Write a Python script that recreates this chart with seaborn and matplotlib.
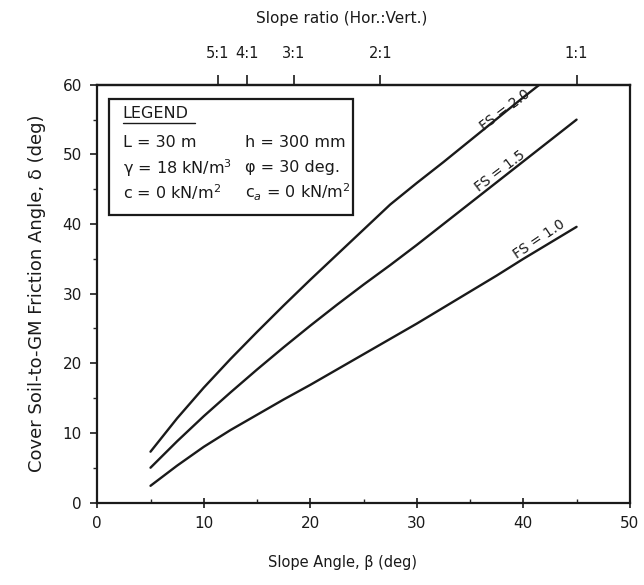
import numpy as np
import pandas as pd
import matplotlib
matplotlib.use("Agg")
import matplotlib.pyplot as plt
import seaborn as sns
from matplotlib.patches import Rectangle

# Slope angle beta (deg) and required interface friction angle delta (deg) for each factor of safety
beta = [5, 7.5, 10, 12.5, 15, 17.5, 20, 22.5, 25, 27.5, 30, 32.5, 35, 37.5, 40, 42.5, 45]
delta_fs10 = [2.4, 5.3, 8.0, 10.4, 12.6, 14.8, 16.9, 19.1, 21.3, 23.5, 25.7, 28.0, 30.3, 32.6, 35.0, 37.3, 39.6]
delta_fs15 = [5.0, 8.8, 12.4, 15.8, 19.1, 22.3, 25.4, 28.4, 31.3, 34.1, 37.0, 40.0, 43.0, 46.0, 49.0, 52.0, 55.0]
beta_fs20 = [5, 7.5, 10, 12.5, 15, 17.5, 20, 22.5, 25, 27.5, 30, 32.5, 35, 37.5, 40, 41.5]
delta_fs20 = [7.3, 12.1, 16.5, 20.6, 24.5, 28.3, 32.0, 35.6, 39.2, 42.8, 45.9, 48.9, 52.0, 55.1, 58.2, 60.0]

fs_names = ["FS = 1.0", "FS = 1.5", "FS = 2.0"]

# Slope ratios shown on the top axis
ratio_labels = ["5:1", "4:1", "3:1", "2:1", "1:1"]
ratio_hv = [5, 4, 3, 2, 1]

sns.set_theme(style="ticks")
plt.rcParams["font.family"] = ["DejaVu Sans"]
INK = "#1a1a1a"

frames = [
    pd.DataFrame({"beta": beta, "delta": delta_fs10, "fs": fs_names[0]}),
    pd.DataFrame({"beta": beta, "delta": delta_fs15, "fs": fs_names[1]}),
    pd.DataFrame({"beta": beta_fs20, "delta": delta_fs20, "fs": fs_names[2]}),
]
df = pd.concat(frames, ignore_index=True)

fig = plt.figure(figsize=(6.44, 5.85), dpi=100)
ax = fig.add_axes([0.151, 0.141, 0.827, 0.714])

sns.lineplot(data=df, x="beta", y="delta", hue="fs", units="fs", estimator=None,
             palette=[INK] * 3, linewidth=1.7, legend=False, ax=ax, sort=True)

ax.set_xlim(0, 50)
ax.set_ylim(0, 60)
ax.set_xticks(np.arange(0, 51, 10))
ax.set_yticks(np.arange(0, 61, 10))
ax.set_xticks(np.arange(0, 51, 5), minor=True)
ax.set_yticks(np.arange(0, 61, 5), minor=True)
ax.tick_params(axis="x", which="major", direction="inout", length=7, width=1.2,
               labelsize=11, pad=6, colors=INK)
ax.tick_params(axis="x", which="minor", direction="in", length=3, width=1)
ax.tick_params(axis="y", which="major", direction="out", length=5, width=1.2,
               labelsize=11, pad=6, colors=INK)
ax.tick_params(axis="y", which="minor", direction="out", length=3, width=1)
for s in ax.spines.values():
    s.set_visible(True)
    s.set_linewidth(1.6)
    s.set_color(INK)

ax.set_xlabel("Slope Angle, β (deg)", fontsize=10.5, color=INK)
ax.xaxis.set_label_coords(0.46, -0.125)
ax.set_ylabel("Cover Soil-to-GM Friction Angle, δ (deg)", fontsize=13,
              labelpad=12, color=INK)

# Top axis: slope ratio (horizontal : vertical)
top = ax.secondary_xaxis("top")
top.set_xticks([np.degrees(np.arctan(1.0 / r)) for r in ratio_hv])
top.set_xticklabels(ratio_labels)
top.tick_params(direction="out", length=7, width=1.2, labelsize=10.5, pad=10,
                colors=INK)
top.spines["top"].set_linewidth(1.6)
fig.text(0.531, 0.968, "Slope ratio (Hor.:Vert.)", fontsize=11, ha="center",
         va="center", color=INK)

# Curve labels
ax.text(38.3, 56.4, "FS = 2.0", rotation=37, ha="center", va="center",
        fontsize=10, color=INK)
ax.text(37.8, 47.6, "FS = 1.5", rotation=37, ha="center", va="center",
        fontsize=10, color=INK)
ax.text(41.5, 37.8, "FS = 1.0", rotation=34, ha="center", va="center",
        fontsize=10, color=INK)

# Parameter box
ax.add_patch(Rectangle((1.1, 41.3), 22.9, 16.6, fill=False, edgecolor=INK,
                       linewidth=1.6, zorder=3))
ax.text(2.4, 55.9, "LEGEND", fontsize=11.5, va="center", ha="left", color=INK)
ax.plot([2.4, 9.2], [54.5, 54.5], color=INK, linewidth=1.0)
left_col = ["L = 30 m", "γ = 18 kN/m$^3$", "c = 0 kN/m$^2$"]
right_col = ["h = 300 mm", "φ = 30 deg.", "c$_a$ = 0 kN/m$^2$"]
rows_y = [51.7, 48.1, 44.6]
for ty, lt, rt in zip(rows_y, left_col, right_col):
    ax.text(2.4, ty, lt, fontsize=11.5, va="center", ha="left", color=INK)
    ax.text(13.9, ty, rt, fontsize=11.5, va="center", ha="left", color=INK)

fig.savefig("out.png", dpi=100, facecolor="white")
